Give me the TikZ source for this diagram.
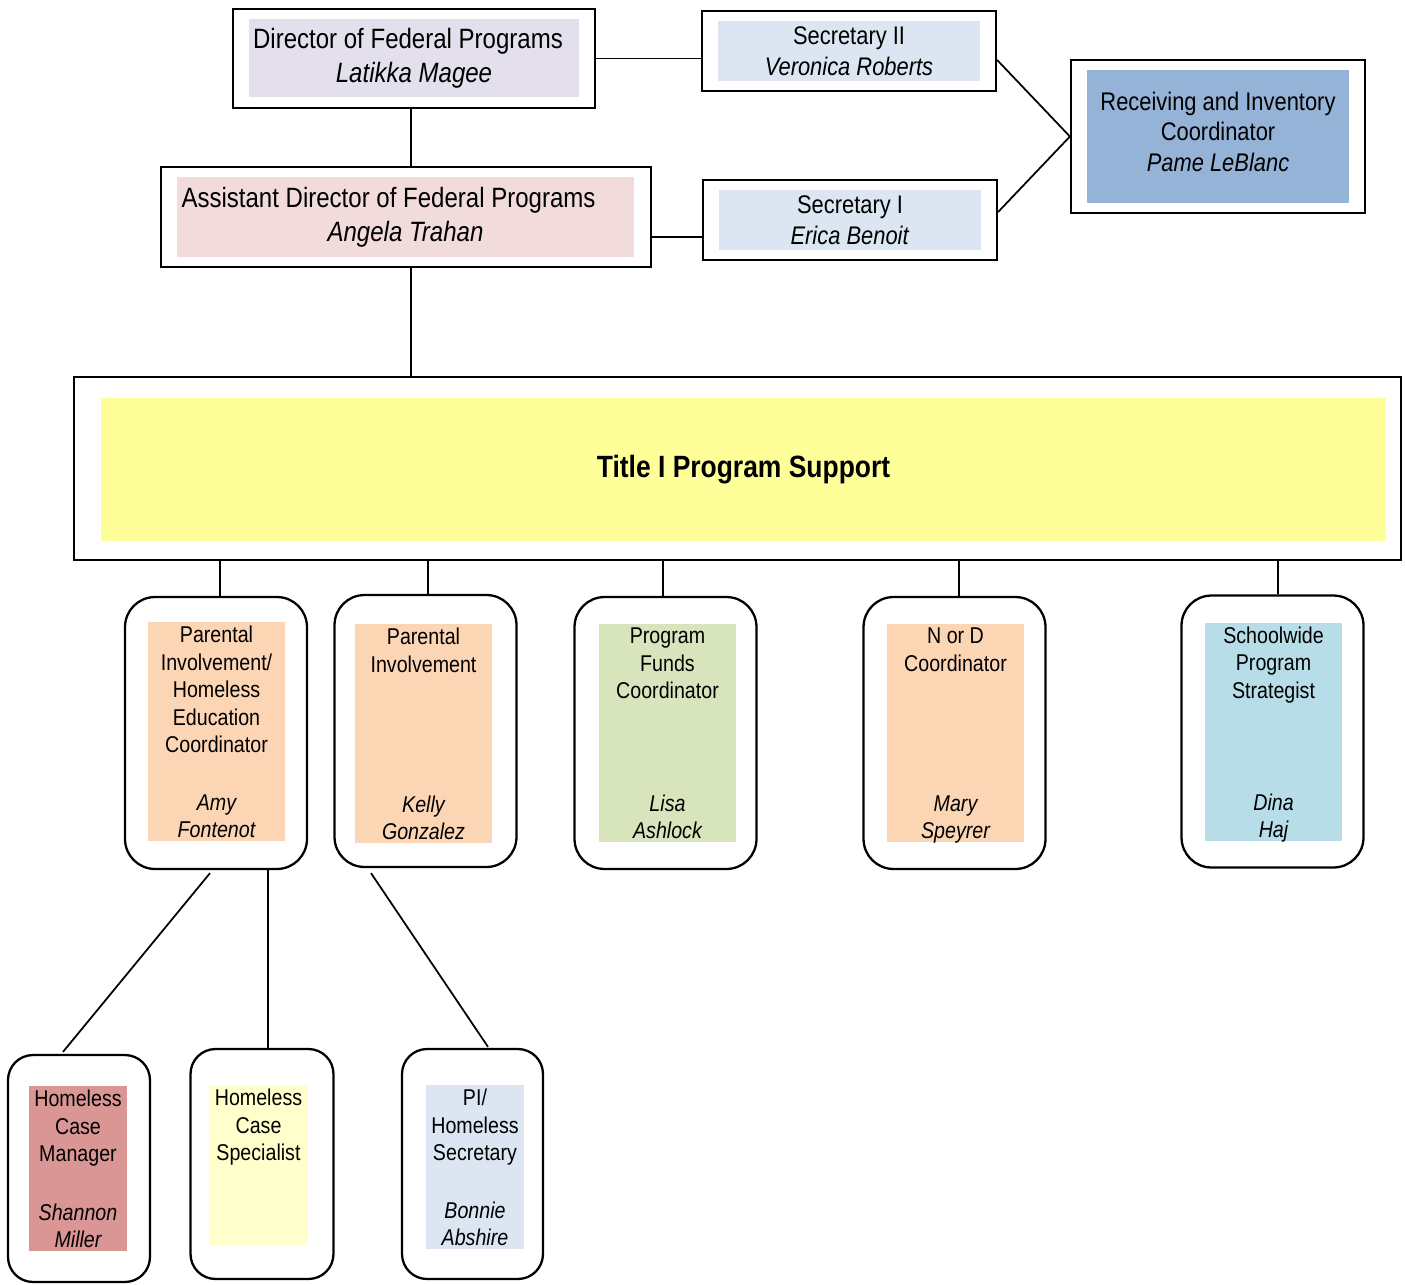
\documentclass[tikz,border=0pt]{standalone}
\usepackage{fontspec}
\setmainfont{Liberation Sans}[FakeStretch=0.86]

\definecolor{lavender}{HTML}{E4DFEC}
\definecolor{blush}{HTML}{F2DCDB}
\definecolor{paleblue}{HTML}{DCE6F2}
\definecolor{steel}{HTML}{95B3D7}
\definecolor{lemon}{HTML}{FFFF99}
\definecolor{peach}{HTML}{FCD5B5}
\definecolor{sage}{HTML}{D8E4BC}
\definecolor{aqua}{HTML}{B7DEE8}
\definecolor{rose}{HTML}{DA9694}
\definecolor{cream}{HTML}{FFFFCC}

\tikzstyle{frame}=[draw=black, line width=1.3pt, fill=white, inner sep=0pt]
\tikzstyle{card}=[frame, rounded corners=0.6cm, minimum width=3.64cm, minimum height=5.44cm]
\tikzstyle{smallcard}=[frame, rounded corners=0.5cm]
\tikzstyle{panel}=[inner sep=0pt, align=center]
\tikzstyle{link}=[draw=black, line width=1pt]

\begin{document}
\begin{tikzpicture}[x=0.02cm, y=-0.02cm,
    head/.style = {font=\fontsize{15.9}{19.4}\selectfont, text depth=0.12cm},
    sec/.style = {font=\fontsize{14.5}{17.4}\selectfont},
    role/.style = {anchor=north, align=center, inner sep=2.5pt, font=\fontsize{13}{15.6}\selectfont},
    who/.style = {anchor=south, align=center, inner sep=2pt, text depth=0pt, font=\fontsize{13}{15.6}\selectfont\itshape}]
    \useasboundingbox (0,0) rectangle (1405,1284);

    \node (dir) [frame, minimum width=7.24cm, minimum height=1.98cm] at (414,58.5) {};
    \node (dirin) [panel, head, fill=lavender, minimum width=6.6cm, minimum height=1.56cm] at (414,58)
      {Director of Federal Programs\hspace*{0.24cm}\\\textit{Latikka Magee}};

    \node (asst) [frame, minimum width=9.8cm, minimum height=2cm] at (406,217) {};
    \node (asstin) [panel, head, fill=blush, minimum width=9.14cm, minimum height=1.6cm] at (405.5,217)
      {Assistant Director of Federal Programs\hspace*{0.68cm}\\\textit{Angela Trahan}};

    \node (sec2) [frame, minimum width=5.88cm, minimum height=1.6cm] at (849,51) {};
    \node (sec2in) [panel, sec, fill=paleblue, minimum width=5.24cm, minimum height=1.2cm] at (849,51)
      {Secretary II\\\textit{Veronica Roberts}};

    \node (sec1) [frame, minimum width=5.88cm, minimum height=1.6cm] at (850,220) {};
    \node (sec1in) [panel, sec, fill=paleblue, minimum width=5.24cm, minimum height=1.2cm] at (850,220)
      {Secretary I\\\textit{Erica Benoit}};

    \node (rec) [frame, minimum width=5.88cm, minimum height=3.06cm] at (1218,136.5) {};
    \node (recin) [panel, sec, fill=steel, minimum width=5.24cm, minimum height=2.66cm, text depth=0.2cm] at (1218,136.5)
      {Receiving and Inventory\\Coordinator\\\textit{Pame LeBlanc}};

    \node (title) [frame, minimum width=26.54cm, minimum height=3.66cm] at (737.5,468.5) {};
    \node (titlein) [panel, fill=lemon, minimum width=25.7cm, minimum height=2.86cm,
      font=\fontsize{17.5}{21}\selectfont\bfseries] at (743.5,469.5) {Title I Program Support};

    \node (p1) [card] at (216,733) {};
    \node (p1in) [panel, fill=peach, minimum width=2.74cm, minimum height=4.38cm,
      label={[role]north:{Parental\\Involvement/\\Homeless\\Education\\Coordinator}},
      label={[who]south:{Amy\\Fontenot}}] at (216.5,731.5) {};

    \node (p2) [card] at (425.5,731) {};
    \node (p2in) [panel, fill=peach, minimum width=2.74cm, minimum height=4.38cm,
      label={[role]north:{Parental\\Involvement}},
      label={[who]south:{Kelly\\Gonzalez}}] at (423.5,733.5) {};

    \node (p3) [card] at (665.5,733) {};
    \node (p3in) [panel, fill=sage, minimum width=2.74cm, minimum height=4.38cm,
      label={[role]north:{Program\\Funds\\Coordinator}},
      label={[who]south:{Lisa\\Ashlock}}] at (667.5,733) {};

    \node (p4) [card] at (954.5,733) {};
    \node (p4in) [panel, fill=peach, minimum width=2.74cm, minimum height=4.38cm,
      label={[role]north:{N or D\\Coordinator}},
      label={[who]south:{Mary\\Speyrer}}] at (955.5,733) {};

    \node (p5) [card] at (1272.5,731.5) {};
    \node (p5in) [panel, fill=aqua, minimum width=2.74cm, minimum height=4.38cm,
      label={[role]north:{Schoolwide\\Program\\Strategist}},
      label={[who]south:{Dina\\Haj}}] at (1273.5,732) {};

    \node (hcm) [smallcard, minimum width=2.84cm, minimum height=4.54cm] at (79,1168.5) {};
    \node (hcmin) [panel, fill=rose, minimum width=1.96cm, minimum height=3.3cm,
      label={[role]north:{Homeless\\Case\\Manager}},
      label={[who]south:{Shannon\\Miller}}] at (78,1168.5) {};

    \node (hcs) [smallcard, minimum width=2.86cm, minimum height=4.6cm] at (262,1164) {};
    \node (hcsin) [panel, fill=cream, minimum width=1.98cm, minimum height=3.2cm,
      label={[role]north:{Homeless\\Case\\Specialist}}] at (258.5,1165) {};

    \node (pis) [smallcard, minimum width=2.82cm, minimum height=4.6cm] at (472.5,1164) {};
    \node (pisin) [panel, fill=paleblue, minimum width=1.96cm, minimum height=3.28cm,
      label={[role]north:{PI/\\Homeless\\Secretary}},
      label={[who]south:{Bonnie\\Abshire}}] at (475,1167) {};

    \draw[link] ([xshift=-0.06cm]dir.south) -- ([xshift=-0.06cm]dir.south |- asst.north);
    \draw[link] ([xshift=0.1cm]asst.south) -- ([xshift=0.1cm]asst.south |- title.north);
    \draw[link] (dir.east) -- (dir.east -| sec2.west);
    \draw[link] ([yshift=-0.4cm]asst.east) -- ([yshift=-0.4cm]asst.east -| sec1.west);
    \draw[link] ([yshift=-0.18cm]sec2.east) -- (rec.west);
    \draw[link] ([yshift=0.16cm]sec1.east) -- (rec.west);
    \foreach \p/\s in {p1/0.08, p2/0.05, p3/-0.05, p4/0.09, p5/0.11}
      \draw[link] ([xshift=\s cm]\p.north) -- ([xshift=\s cm]\p.north |- title.south);
    \draw[link] ([xshift=-0.12cm,yshift=-0.06cm]p1.south) -- ([xshift=-0.32cm,yshift=0.04cm]hcm.north);
    \draw[link] ([xshift=0.12cm]hcs.north) -- ([xshift=0.12cm]hcs.north |- p1.south);
    \draw[link] ([xshift=-1.09cm,yshift=-0.1cm]p2.south) -- ([xshift=0.31cm,yshift=0.02cm]pis.north);
\end{tikzpicture}
\end{document}
